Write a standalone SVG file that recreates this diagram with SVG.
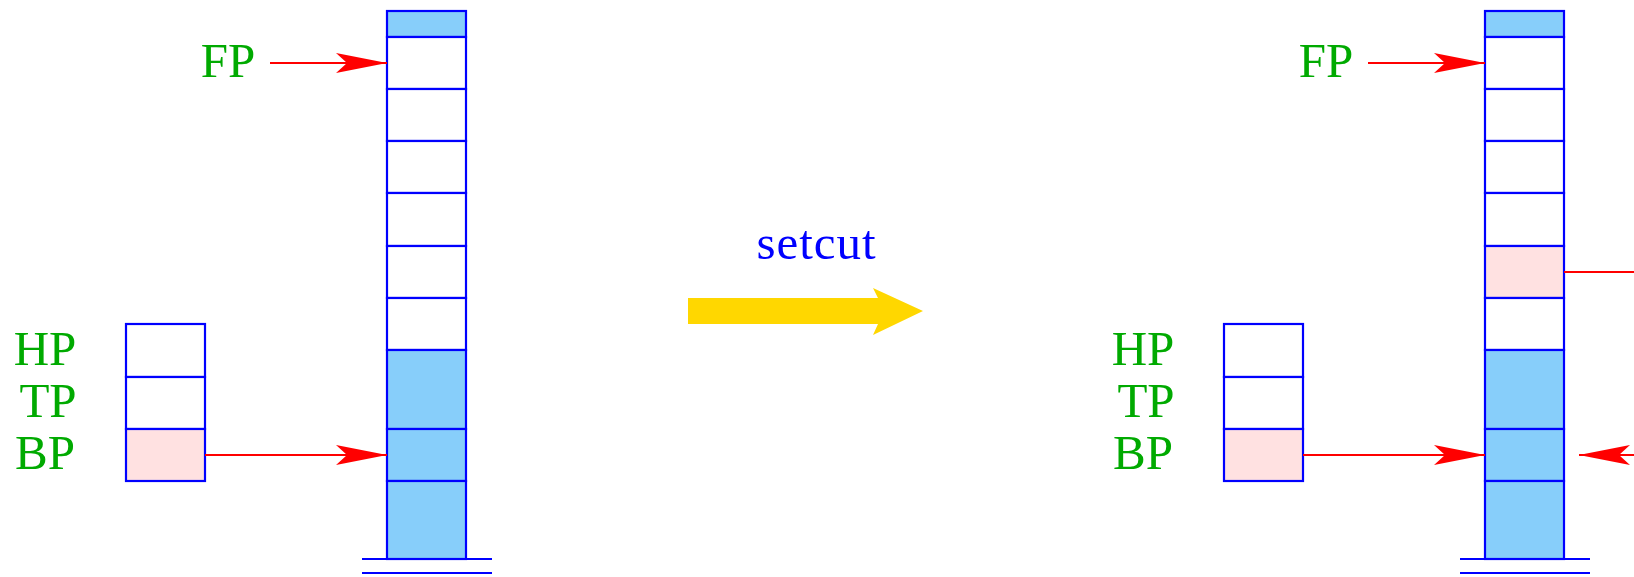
<svg xmlns="http://www.w3.org/2000/svg" width="1634" height="577" viewBox="0 0 1634 577">
<defs>
<style>
.cell{stroke:#0000FF;stroke-width:2.2;fill:#FFFFFF}
.blue{fill:#87CEFA}
.pink{fill:#FFE1E1}
.base{stroke:#0000FF;stroke-width:2.2}
.lbl{font-family:"Liberation Serif","DejaVu Serif",serif;font-size:49px;fill:#00AA00;text-anchor:middle}
.op{font-family:"Liberation Serif","DejaVu Serif",serif;font-size:49px;fill:#0000FF;text-anchor:middle}
.ptr{stroke:#FF0000;stroke-width:2.2;fill:none}
</style>
<marker id="ah" markerUnits="userSpaceOnUse" markerWidth="52" markerHeight="22" viewBox="-52 -11 52 22" refX="0" refY="0" orient="auto">
<path d="M0,0 L-51,-10 L-40,0 L-51,10 Z" fill="#FF0000"/>
</marker>
</defs>
<rect width="1634" height="577" fill="#FFFFFF"/>

<g id="left">
<g id="left-stack">
<rect class="cell blue" x="387" y="11" width="79" height="26"/>
<rect class="cell" x="387" y="37" width="79" height="52"/>
<rect class="cell" x="387" y="89" width="79" height="52"/>
<rect class="cell" x="387" y="141" width="79" height="52"/>
<rect class="cell" x="387" y="193" width="79" height="53"/>
<rect class="cell" x="387" y="246" width="79" height="52"/>
<rect class="cell" x="387" y="298" width="79" height="52"/>
<rect class="cell blue" x="387" y="350" width="79" height="79"/>
<rect class="cell blue" x="387" y="429" width="79" height="52"/>
<rect class="cell blue" x="387" y="481" width="79" height="78"/>
<line class="base" x1="362" y1="559" x2="492" y2="559"/>
<line class="base" x1="362" y1="573" x2="492" y2="573"/>
</g>
<g id="left-regs">
<rect class="cell" x="126" y="324" width="79" height="53"/>
<rect class="cell" x="126" y="377" width="79" height="52"/>
<rect class="cell pink" x="126" y="429" width="79" height="52"/>
<text class="lbl" x="45" y="365">HP</text>
<text class="lbl" x="48" y="417">TP</text>
<text class="lbl" x="45" y="469">BP</text>
</g>
<g id="left-fp">
<text class="lbl" x="228" y="77">FP</text>
</g>
</g>

<g id="op">
<text class="op" x="816" y="259" textLength="119">setcut</text>
<path d="M688,298 L878,298 L873,288 L923,311 L873,335 L878,324 L688,324 Z" fill="#FFD700"/>
</g>

<g id="right">
<g id="right-stack">
<rect class="cell blue" x="1485" y="11" width="79" height="26"/>
<rect class="cell" x="1485" y="37" width="79" height="52"/>
<rect class="cell" x="1485" y="89" width="79" height="52"/>
<rect class="cell" x="1485" y="141" width="79" height="52"/>
<rect class="cell" x="1485" y="193" width="79" height="53"/>
<rect class="cell pink" x="1485" y="246" width="79" height="52"/>
<rect class="cell" x="1485" y="298" width="79" height="52"/>
<rect class="cell blue" x="1485" y="350" width="79" height="79"/>
<rect class="cell blue" x="1485" y="429" width="79" height="52"/>
<rect class="cell blue" x="1485" y="481" width="79" height="78"/>
<line class="base" x1="1460" y1="559" x2="1590" y2="559"/>
<line class="base" x1="1460" y1="573" x2="1590" y2="573"/>
</g>
<g id="right-regs">
<rect class="cell" x="1224" y="324" width="79" height="53"/>
<rect class="cell" x="1224" y="377" width="79" height="52"/>
<rect class="cell pink" x="1224" y="429" width="79" height="52"/>
<text class="lbl" x="1143" y="365">HP</text>
<text class="lbl" x="1146" y="417">TP</text>
<text class="lbl" x="1143" y="469">BP</text>
</g>
<g id="right-fp">
<text class="lbl" x="1326" y="77">FP</text>
</g>
</g>

<g id="connectors">
<line class="ptr" x1="270" y1="63" x2="387" y2="63" marker-end="url(#ah)"/>
<line class="ptr" x1="205" y1="455" x2="387" y2="455" marker-end="url(#ah)"/>
<line class="ptr" x1="1368" y1="63" x2="1485" y2="63" marker-end="url(#ah)"/>
<line class="ptr" x1="1303" y1="455" x2="1485" y2="455" marker-end="url(#ah)"/>
<line class="ptr" x1="1564" y1="272" x2="1634" y2="272"/>
<line class="ptr" x1="1640" y1="455" x2="1579" y2="455" marker-end="url(#ah)"/>
</g>
</svg>
